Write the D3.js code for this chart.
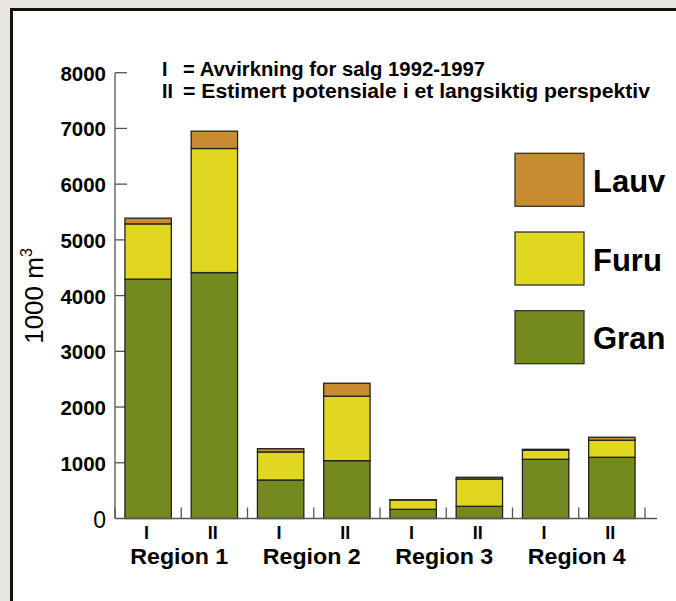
<!DOCTYPE html>
<html><head><meta charset="utf-8">
<script src="https://cdn.jsdelivr.net/npm/d3@7"></script>
<style>html,body{margin:0;padding:0;background:#e9e6e1;}svg{display:block;font-family:"Liberation Sans",Arial,sans-serif;}</style>
</head><body><svg id="c" width="676" height="601"></svg>
<script>
const regions = ["Region 1","Region 2","Region 3","Region 4"];
const periods = ["I","II"];
const series = ["Gran","Furu","Lauv"];
// values per bar, order: R1-I, R1-II, R2-I, R2-II, R3-I, R3-II, R4-I, R4-II
const gran = [4295, 4413, 691, 1038, 165, 219, 1063, 1099];
const furu = [992, 2227, 503, 1156, 167, 490, 162, 305];
const lauv = [103, 311, 59, 233, 5, 31, 17, 54];
const yTicks = [0,1000,2000,3000,4000,5000,6000,7000,8000];
const titleLines = [["I","= Avvirkning for salg 1992-1997"],["II","= Estimert potensiale i et langsiktig perspektiv"]];
const colors = {Lauv:"#c98b2f", Furu:"#e1d620", Gran:"#748a1f"};

const svg = d3.select("#c");
svg.append("rect").attr("width",676).attr("height",601).attr("fill","#e9e6e1");
svg.append("rect").attr("x",11).attr("y",9).attr("width",670).attr("height",600).attr("fill","#fff");
svg.append("path").attr("d","M11.5,601V9.5H676").attr("fill","none").attr("stroke","#111").attr("stroke-width",3);

const bars = [];
regions.forEach((r,ri)=>periods.forEach((p,pi)=>{
  const i = ri*2+pi;
  bars.push({key:r+"|"+p, region:r, period:p, Gran:gran[i], Furu:furu[i], Lauv:lauv[i]});
}));

const x = d3.scaleBand().domain(bars.map(d=>d.key)).range([115,645]).paddingInner(0.3).paddingOuter(0.15);
const y = d3.scaleLinear().domain([0,8000]).range([518.5,72.7]);

const stack = d3.stack().keys(series)(bars);

// y axis
const yAxisG = svg.append("g").attr("transform","translate(115,0)");
yAxisG.append("line").attr("x1",0).attr("x2",0).attr("y1",y(8000)).attr("y2",y(0)).attr("stroke","#555").attr("stroke-width",1.3);
yAxisG.selectAll("line.t").data(yTicks.filter(v=>v>0)).join("line").attr("class","t")
  .attr("x1",0).attr("x2",12).attr("y1",d=>y(d)).attr("y2",d=>y(d)).attr("stroke","#555").attr("stroke-width",1.3);
yAxisG.selectAll("text").data(yTicks).join("text")
  .attr("x",-9).attr("y",d=>y(d)+(d===0?9.5:8))
  .attr("text-anchor","end")
  .attr("font-size",d=>d===0?23:20.5)
  .attr("font-weight",d=>d===0?"normal":"bold")
  .text(d=>d);

// y title
const yt = svg.append("text").attr("transform","translate(43,296) rotate(-90)").attr("text-anchor","middle").attr("font-size",26);
yt.append("tspan").text("1000 m");
yt.append("tspan").attr("font-size",16).attr("dy",-11).text("3");

// bars
svg.append("g").selectAll("g").data(stack).join("g").attr("fill",d=>colors[d.key])
  .selectAll("rect").data(d=>d).join("rect")
  .attr("x",d=>x(d.data.key)).attr("width",x.bandwidth())
  .attr("y",d=>y(d[1])).attr("height",d=>y(d[0])-y(d[1]))
  .attr("stroke","#222").attr("stroke-width",1.3);

// x axis
const step = x.step();
const bounds = d3.range(9).map(i=>115+i*step);
svg.append("line").attr("x1",115).attr("x2",657).attr("y1",y(0)).attr("y2",y(0)).attr("stroke","#555").attr("stroke-width",1.5);
svg.selectAll("line.xt").data(bounds).join("line").attr("class","xt")
  .attr("x1",d=>d).attr("x2",d=>d).attr("y1",y(0)).attr("y2",y(0)-11).attr("stroke","#555").attr("stroke-width",1.3);
svg.selectAll("text.per").data(bars).join("text").attr("class","per")
  .attr("x",d=>x(d.key)+x.bandwidth()/2-1.5).attr("y",539).attr("text-anchor","middle")
  .attr("font-size",18).attr("font-weight","bold").text(d=>d.period);
svg.selectAll("text.reg").data(regions).join("text").attr("class","reg")
  .attr("x",r=>(x(r+"|I")+x(r+"|II")+x.bandwidth())/2-2).attr("y",564).attr("text-anchor","middle")
  .attr("font-size",21.5).attr("font-weight","bold")
  .attr("textLength",98).attr("lengthAdjust","spacingAndGlyphs").text(r=>r);

// title
const titleWidths = [302, 467];
const tg = svg.append("g").attr("font-weight","bold").attr("font-size",19.5);
titleLines.forEach((l,i)=>{
  tg.append("text").attr("x",162).attr("y",75.7+i*22).text(l[0]);
  tg.append("text").attr("x",183).attr("y",75.7+i*22)
    .attr("textLength",titleWidths[i]).attr("lengthAdjust","spacingAndGlyphs").text(l[1]);
});

// legend
const legendOrder = ["Lauv","Furu","Gran"];
const lg = svg.append("g").selectAll("g").data(legendOrder).join("g")
  .attr("transform",(d,i)=>`translate(515,${153.3+i*78.7})`);
lg.append("rect").attr("width",69).attr("height",53).attr("fill",d=>colors[d]).attr("stroke","#333").attr("stroke-width",1.3);
lg.append("text").attr("x",78).attr("y",38.5).attr("font-size",31).attr("font-weight","bold").text(d=>d);
</script></body></html>
